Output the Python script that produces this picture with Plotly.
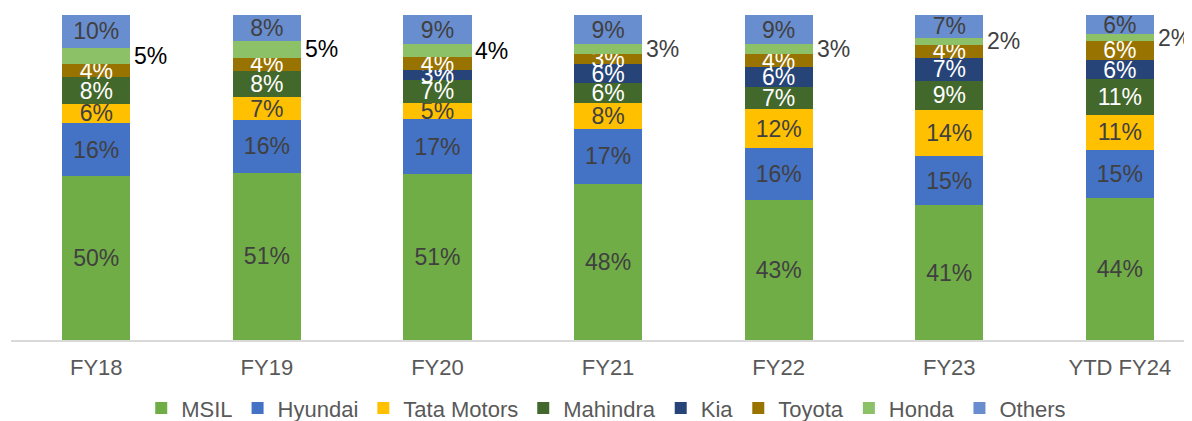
import plotly.graph_objects as go

categories = ["FY18", "FY19", "FY20", "FY21", "FY22", "FY23", "YTD FY24"]
msil = [50, 51, 51, 48, 43, 41, 44]
hyundai = [16, 16, 17, 17, 16, 15, 15]
tata = [6, 7, 5, 8, 12, 14, 11]
mahindra = [8, 8, 7, 6, 7, 9, 11]
kia = [0, 0, 3, 6, 6, 7, 6]
toyota = [4, 4, 4, 3, 4, 4, 6]
honda = [5, 5, 4, 3, 3, 2, 2]
others = [10, 8, 9, 9, 9, 7, 6]

series = [
    ("MSIL", msil, "#70AD47", "#404040"),
    ("Hyundai", hyundai, "#4472C4", "#404040"),
    ("Tata Motors", tata, "#FFC000", "#404040"),
    ("Mahindra", mahindra, "#43682B", "#FFFFFF"),
    ("Kia", kia, "#264478", "#FFFFFF"),
    ("Toyota", toyota, "#997300", "#FFFFFF"),
    ("Honda", honda, "#8CC168", None),
    ("Others", others, "#698ED0", "#404040"),
]

FONT = "Liberation Sans, Arial, sans-serif"
LBL = 23
fig = go.Figure()
for name, vals, color, tcol in series:
    texts = [f"{v}%" if (v > 0 and tcol) else "" for v in vals]
    fig.add_trace(go.Bar(
        name=name, x=categories, y=vals, marker_color=color,
        marker_line_width=0,
        text=texts, textposition="inside" if tcol else "none",
        insidetextanchor="middle",
        textfont=dict(color=tcol or "#404040", size=LBL, family=FONT),
    ))

# Honda labels to the right of bars
totals = [sum(s[1][i] for s in series) for i in range(len(categories))]
honda_colors = ["#000000", "#000000", "#000000", "#404040", "#404040", "#404040", "#404040"]
for i, cat in enumerate(categories):
    below = msil[i] + hyundai[i] + tata[i] + mahindra[i] + kia[i] + toyota[i]
    mid = (below + honda[i] / 2) / totals[i] * 100
    fig.add_annotation(x=i, y=mid, xref="x", yref="y", text=f"{honda[i]}%",
                       showarrow=False, xanchor="left", yanchor="middle",
                       xshift=36, font=dict(size=LBL, color=honda_colors[i], family=FONT))

fig.update_layout(
    barmode="stack", barnorm="percent", bargap=0.6,
    width=1184, height=413,
    margin=dict(l=3, r=0, t=7, b=81, autoexpand=False),
    paper_bgcolor="white", plot_bgcolor="white",
    font=dict(family=FONT, color="#595959", size=22),
    uniformtext=dict(minsize=LBL, mode="show"),
    showlegend=True,
    legend=dict(orientation="h", x=0.504, xanchor="center", y=-0.21, yanchor="middle",
                font=dict(size=22, color="#595959"), traceorder="normal",
                itemwidth=30, tracegroupgap=0),
)
fig.update_xaxes(range=[-0.5, 6.423], showline=True, linecolor="#D9D9D9", linewidth=1.5,
                 ticks="outside", ticklen=7, tickcolor="rgba(0,0,0,0)",
                 tickfont=dict(size=22, color="#595959"), showgrid=False)
fig.update_yaxes(range=[0, 100], visible=False, showgrid=False)

fig.write_html("out.html")
